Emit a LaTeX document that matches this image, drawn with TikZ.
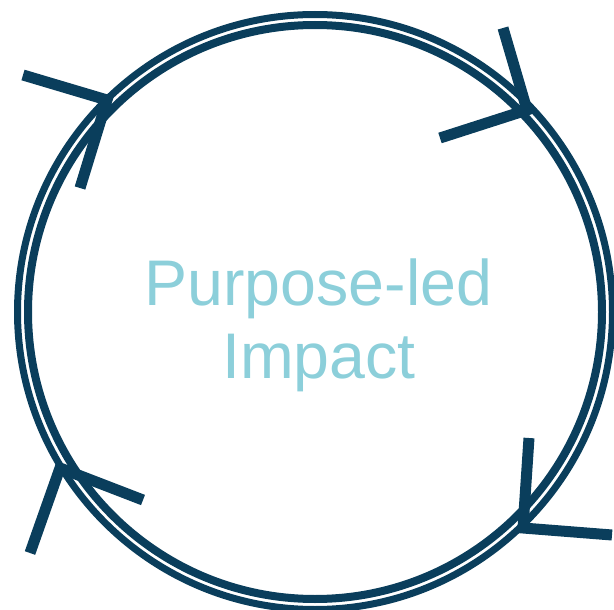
\documentclass[tikz,border=0pt]{standalone}
\usepackage{fontspec}
\newfontfamily\labelfont{Liberation Sans}
\definecolor{navy}{RGB}{10,62,92}
\definecolor{teal}{RGB}{140,207,218}
\begin{document}
\begin{tikzpicture}[x=1pt,y=-1pt,
  ring/.style={draw=navy},
  chev/.style={draw=navy,line width=11pt,line join=miter,line cap=butt},
  lbl/.style={text=teal,font=\labelfont\fontsize{64.5}{73}\selectfont,anchor=base,inner sep=0pt}]
\useasboundingbox (0,0) rectangle (614,610);
\clip (0,0) rectangle (614,610);
\coordinate (c) at (315,312);
\draw[ring,line width=7pt] (c) circle[radius=297.5];
\draw[ring,line width=8pt] (c) circle[radius=287];
% chevrons
\coordinate (tlA) at (23,75); \coordinate (tlV) at (107,100); \coordinate (tlB) at (80,188);
\coordinate (trA) at (503,28); \coordinate (trV) at (527,110); \coordinate (trB) at (440,138);
\coordinate (brA) at (529,438); \coordinate (brV) at (523,528); \coordinate (brB) at (612,535);
\coordinate (blA) at (30,553); \coordinate (blV) at (60,468); \coordinate (blB) at (143,500);
\draw[chev] (tlA) -- (tlV) -- (tlB);
\draw[chev] (trA) -- (trV) -- (trB);
\draw[chev] (brA) -- (brV) -- (brB);
\draw[chev] (blA) -- (blV) -- (blB);
\node[lbl] (l1) at (318.5,305) {Purpose-led};
\node[lbl] (l2) at (319,378) {Impact};
\end{tikzpicture}
\end{document}
